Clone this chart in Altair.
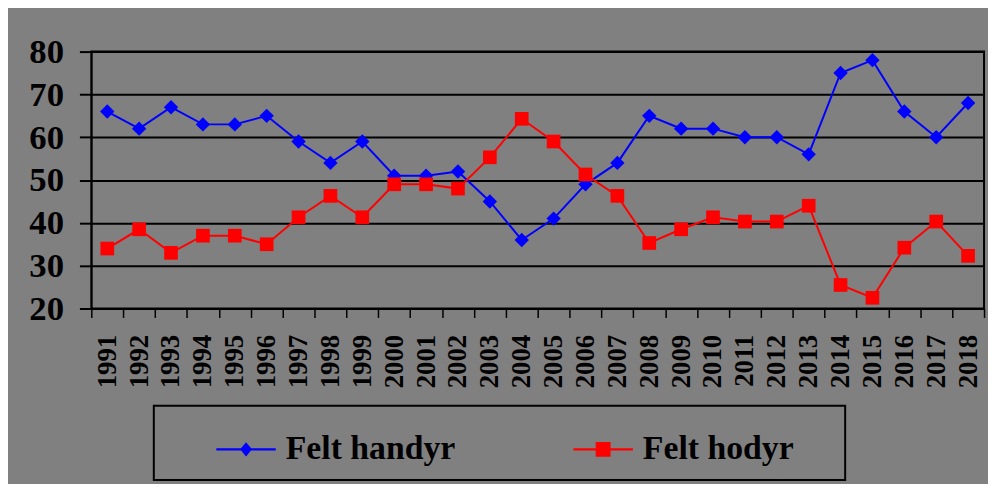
import altair as alt
import pandas as pd

years = [str(y) for y in range(1991, 2019)]
handyr = [66, 62, 67, 63, 63, 65, 59, 54, 59, 51, 51, 52, 45, 36, 41, 49, 54, 65,
          62, 62, 60, 60, 56, 75, 78, 66, 60, 68]
hodyr = [34, 38.5, 33, 37, 37, 35, 41.3, 46.3, 41.3, 49, 49, 48, 55.3, 64.3, 59, 51.3,
         46.3, 35.3, 38.5, 41.3, 40.3, 40.3, 44, 25.5, 22.5, 34.2, 40.3, 32.3]
series_names = ["Felt handyr", "Felt hodyr"]
series_colors = ["#0000FF", "#FF0000"]
y_ticks = [20, 30, 40, 50, 60, 70, 80]

df = pd.DataFrame({
    "year": years * 2,
    "series": [series_names[0]] * len(years) + [series_names[1]] * len(years),
    "value": handyr + hodyr,
})

FONT = "Liberation Serif"

x_enc = alt.X(
    "year:O",
    sort=years,
    bandPosition=0.5,
    scale=alt.Scale(type="band", paddingInner=0, paddingOuter=0),
    axis=alt.Axis(
        title=None, labelAngle=270, labelAlign="right", labelBaseline="middle",
        labelPadding=17, labelFont=FONT, labelFontSize=27, labelFontWeight="bold",
        labelColor="black", tickSize=9, tickColor="black", tickWidth=1.5,
        tickBand="extent", domainColor="black", domainWidth=2, grid=False,
        labelOverlap=False,
    ),
)
y_enc = alt.Y(
    "value:Q",
    scale=alt.Scale(domain=[20, 80], nice=False, zero=False),
    axis=alt.Axis(
        title=None, values=y_ticks, grid=True, gridColor="black", gridWidth=2,
        gridOpacity=1, domainColor="black", domainWidth=1.5, tickColor="black",
        tickSize=12, tickWidth=2, labelFont=FONT, labelFontSize=35,
        labelFontWeight="bold", labelColor="black", labelPadding=16,
    ),
)

base = alt.Chart(df)
layers = []
shapes = ["diamond", "square"]
sizes = [210, 190]
for name, col, shp, sz in zip(series_names, series_colors, shapes, sizes):
    sub = base.transform_filter(alt.datum.series == name)
    layers.append(sub.mark_line(color=col, strokeWidth=2).encode(x=x_enc, y=y_enc))
    layers.append(sub.mark_point(color=col, filled=True, opacity=1, shape=shp, size=sz)
                  .encode(x=x_enc, y=y_enc))

legend_paths = [
    "M-1,-0.04H1V0.04H-1Z M0,-0.24L0.2,0L0,0.24L-0.2,0Z",
    "M-1,-0.04H1V0.04H-1Z M-0.25,-0.25H0.25V0.25H-0.25Z",
]
leg = alt.Legend(
    title=" ", titleOrient="right", titlePadding=38, titleFontSize=10,
    orient="none", legendX=63, legendY=357, direction="horizontal",
    columns=2, gridAlign="all", padding=14, strokeColor="black",
    symbolSize=3600, symbolOffset=49, symbolStrokeWidth=0, labelOffset=10,
    columnPadding=70, labelFont=FONT, labelFontSize=34, labelFontWeight="bold",
    labelColor="black", labelLimit=400,
)
legend_layer = base.transform_filter("false").mark_point(filled=True, opacity=1).encode(
    x=x_enc, y=y_enc,
    color=alt.Color("series:N", scale=alt.Scale(domain=series_names, range=series_colors), legend=leg),
    shape=alt.Shape("series:N", scale=alt.Scale(domain=series_names, range=legend_paths), legend=leg),
)
layers.append(legend_layer)

chart = alt.layer(*layers).properties(
    width=900, height=259,
    autosize=alt.AutoSizeParams(type="none"),
    padding={"left": 84, "top": 42, "right": 4, "bottom": 175},
    background="#808080",
).configure_view(stroke="black", strokeWidth=2).configure_legend(strokeWidth=2)

chart.save("out.html", embed_options={"renderer": "svg", "actions": False})
